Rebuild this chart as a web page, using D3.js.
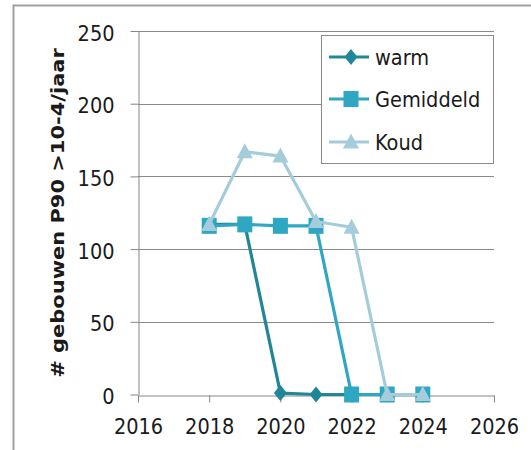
<!DOCTYPE html>
<html>
<head>
<meta charset="utf-8">
<script src="https://cdn.jsdelivr.net/npm/d3@7"></script>
<style>
  body { margin: 0; background: #fff; }
  text { font-family: "DejaVu Sans Condensed", "Liberation Sans", sans-serif; font-stretch: condensed; fill: #1a1a1a; }
</style>
</head>
<body>
<svg id="chart" width="531" height="450"></svg>
<script>
const years = [2018, 2019, 2020, 2021, 2022, 2023, 2024];
const warm = [117, 117, 1, 0, 0, 0, 0];
const gemiddeld = [116, 117, 116, 116, 0, 0, 0];
const koud = [117, 167, 164, 119, 115, 0, 0];
const seriesNames = ["warm", "Gemiddeld", "Koud"];
const xTicks = [2016, 2018, 2020, 2022, 2024, 2026];
const yTicks = [0, 50, 100, 150, 200, 250];
const yTitle = "# gebouwen P90 >10-4/jaar";

const colors = ["#1f8797", "#2fa6c2", "#a5ccda"];
const shapes = ["diamond", "square", "triangle"];
const seriesData = [warm, gemiddeld, koud];
const FS = 21.5;

const svg = d3.select("#chart");
const x = d3.scaleLinear().domain([2016, 2026]).range([138, 494]);
const y = d3.scaleLinear().domain([0, 250]).range([394.5, 31]);

// outer chart border
svg.append("path").attr("d", "M13.5,460V5.5H540")
  .attr("fill", "none").attr("stroke", "#a0a0a0").attr("stroke-width", 2);

// gridlines
svg.append("g").selectAll("line").data(yTicks.filter(d => d > 0)).join("line")
  .attr("x1", x(2016)).attr("x2", x(2026))
  .attr("y1", d => Math.round(y(d)) + 0.5).attr("y2", d => Math.round(y(d)) + 0.5)
  .attr("stroke", "#8a8a8a").attr("stroke-width", 1);

// axes
const xAxis = svg.append("g").attr("transform", `translate(0,${Math.round(y(0)) + 0.5})`)
  .call(d3.axisBottom(x).tickValues(xTicks).tickFormat(d3.format("d")).tickSize(7).tickSizeOuter(0).tickPadding(16));
const yAxis = svg.append("g").attr("transform", `translate(${x(2016) + 0.5},0)`)
  .call(d3.axisLeft(y).tickValues(yTicks).tickSize(8).tickSizeOuter(0).tickPadding(16));
[xAxis, yAxis].forEach(g => {
  g.selectAll("path.domain").attr("stroke", "#868686");
  g.selectAll(".tick line").attr("stroke", "#868686");
  g.selectAll(".tick text").attr("font-size", FS).attr("fill", "#1a1a1a")
    .style("font-family", '"DejaVu Sans Condensed", sans-serif');
});
yAxis.selectAll(".tick text").attr("dy", "0.42em");

// y title
svg.append("text").attr("transform", "translate(64,213) rotate(-90) scale(1.26,1)")
  .attr("text-anchor", "middle").attr("font-size", 18.5).attr("font-weight", "bold")
  .text(yTitle);

function drawMarker(g, shape, cx, cy, color) {
  if (shape === "diamond") {
    g.append("path").attr("d", `M${cx},${cy - 8}L${cx + 6.5},${cy}L${cx},${cy + 8}L${cx - 6.5},${cy}Z`).attr("fill", color);
  } else if (shape === "square") {
    g.append("rect").attr("x", cx - 7.5).attr("y", cy - 8).attr("width", 15).attr("height", 16).attr("fill", color);
  } else {
    g.append("path").attr("d", `M${cx},${cy - 8.5}L${cx + 8},${cy + 6.5}L${cx - 8},${cy + 6.5}Z`).attr("fill", color);
  }
}

const line = d3.line().x((d, i) => x(years[i])).y(d => y(d));
seriesData.forEach((vals, si) => {
  const g = svg.append("g");
  g.append("path").datum(vals).attr("d", line)
    .attr("fill", "none").attr("stroke", colors[si]).attr("stroke-width", 3.2).attr("stroke-linejoin", "round");
  vals.forEach((v, i) => drawMarker(g, shapes[si], x(years[i]), y(v), colors[si]));
});

// legend
const lg = svg.append("g");
lg.append("rect").attr("x", 321.5).attr("y", 35.5).attr("width", 172).attr("height", 128)
  .attr("fill", "#fff").attr("stroke", "#8a8a8a").attr("stroke-width", 1);
const rowY = [57, 99, 142];
seriesNames.forEach((name, i) => {
  lg.append("line").attr("x1", 329).attr("x2", 369).attr("y1", rowY[i]).attr("y2", rowY[i])
    .attr("stroke", colors[i]).attr("stroke-width", 3.2);
  drawMarker(lg, shapes[i], 351, rowY[i], colors[i]);
  lg.append("text").attr("x", 375).attr("y", rowY[i]).attr("dy", "0.36em")
    .attr("font-size", FS).text(name);
});
</script>
</body>
</html>
